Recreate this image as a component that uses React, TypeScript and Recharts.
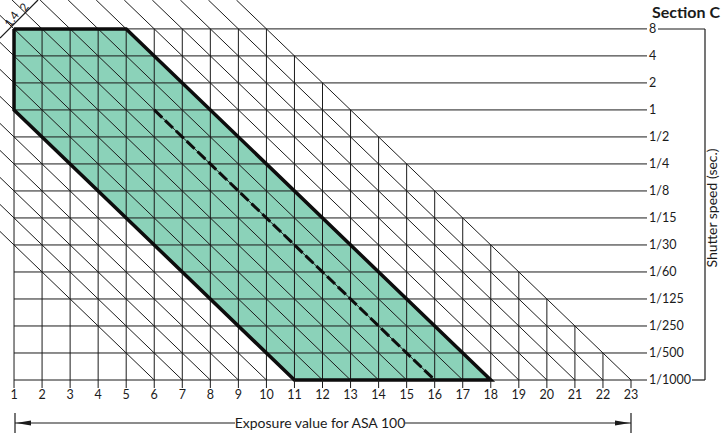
import React from 'react';
import { ComposedChart, Line, Area, XAxis, YAxis } from 'recharts';

// exposure values along the bottom
const evTicks = [1, 2, 3, 4, 5, 6, 7, 8, 9, 10, 11, 12, 13, 14, 15, 16, 17, 18, 19, 20, 21, 22, 23];
// shutter speeds, top row first (row value = 13 - index)
const shutterLabels = ['8', '4', '2', '1', '1/2', '1/4', '1/8', '1/15', '1/30', '1/60', '1/125', '1/250', '1/500', '1/1000'];
// diagonal lines: each one ends on the 1/1000 row at this EV
const diagonalEnds = [6, 7, 8, 9, 10, 11, 12, 13, 14, 15, 16, 17, 18, 19, 20, 21, 22, 23];

// green zone, as a band between a lower and upper edge
const zoneX = [1, 5, 11, 18];
const zoneLow = [10, 6, 0, 0];
const zoneHigh = [13, 13, 7, 0];

// thick outline of the zone
const outlineX = [1, 5, 18, 11, 1, 1];
const outlineY = [13, 13, 0, 0, 10, 13];

// dashed line
const dashX = [6, 16];
const dashY = [10, 0];

const X_MIN = 0.5;
const X_MAX = 23;
const Y_MAX = 14.07;
const TOP_ROW = shutterLabels.length - 1;
const OUTER = diagonalEnds[diagonalEnds.length - 1];

const INK = '#1b1b1b';
const FONT = 'Lato, "Open Sans", sans-serif';

const zoneData = zoneX.map((x, i) => ({ x, band: [zoneLow[i], zoneHigh[i]] }));
const outlineData = outlineX.map((x, i) => ({ x, y: outlineY[i] }));
const dashData = dashX.map((x, i) => ({ x, y: dashY[i] }));

const segments: { x: number; y: number }[][] = [];
// horizontal rows
shutterLabels.forEach((_, i) => {
  const y = TOP_ROW - i;
  segments.push([{ x: 1, y }, { x: X_MAX, y }]);
});
// vertical columns, cut off by the outermost diagonal
evTicks.forEach((x) => {
  const top = Math.min(TOP_ROW, OUTER - x);
  if (top > 0) segments.push([{ x, y: 0 }, { x, y: top }]);
});
// diagonals x + y = k
diagonalEnds.forEach((k) => {
  const start = k - X_MIN <= Y_MAX ? { x: X_MIN, y: k - X_MIN } : { x: k - Y_MAX, y: Y_MAX };
  segments.push([start, { x: k, y: 0 }]);
});

const Decorations = () => (
  <svg width={723} height={433} style={{ position: 'absolute', left: 0, top: 0, pointerEvents: 'none' }}>
    <g stroke={INK} strokeWidth={1.2}>
      <line x1={658} y1={29} x2={705} y2={29} />
      <line x1={705} y1={29} x2={705} y2={380} />
      <line x1={692} y1={380} x2={705} y2={380} />
      <line x1={15} y1={423} x2={235} y2={423} />
      <line x1={405} y1={423} x2={631} y2={423} />
      <line x1={15} y1={413} x2={15} y2={433} />
      <line x1={631} y1={413} x2={631} y2={433} />
      <line x1={0} y1={38} x2={38} y2={0} />
    </g>
    <polygon points="16,423 31,420.5 31,425.5" fill={INK} />
    <polygon points="630,423 615,420.5 615,425.5" fill={INK} />
    <text x={720} y={18} textAnchor="end" fontFamily={FONT} fontWeight="bold" fontSize={16} fill={INK}>
      Section C
    </text>
    <text
      x={717}
      y={208}
      textAnchor="middle"
      transform="rotate(-90 717 208)"
      fontFamily={FONT}
      fontSize={14}
      fill={INK}
    >
      Shutter speed (sec.)
    </text>
    <text x={320} y={428} textAnchor="middle" fontFamily={FONT} fontSize={14} fill={INK}>
      Exposure value for ASA 100
    </text>
    <text x={15} y={21.5} textAnchor="middle" transform="rotate(-55 15 21.5)" fontFamily={FONT} fontSize={11.5} fill={INK}>
      1.4
    </text>
    <text x={27.5} y={9.5} textAnchor="middle" transform="rotate(-55 27.5 9.5)" fontFamily={FONT} fontSize={11.5} fill={INK}>
      2
    </text>
  </svg>
);

export default function App() {
  return (
    <div style={{ position: 'absolute', left: 0, top: 0, width: 723, height: 433, background: '#fff', fontFamily: FONT }}>
      <ComposedChart width={723} height={433} data={zoneData} margin={{ top: 0, right: 0, bottom: 0, left: 0 }}>
        <XAxis
          type="number"
          dataKey="x"
          domain={[X_MIN, X_MAX]}
          ticks={evTicks}
          interval={0}
          height={53}
          tickSize={8}
          axisLine={false}
          tickLine={{ stroke: INK }}
          tick={{ fill: INK, fontSize: 12.5 }}
        />
        <YAxis
          type="number"
          orientation="right"
          domain={[0, Y_MAX]}
          ticks={shutterLabels.map((_, i) => TOP_ROW - i)}
          interval={0}
          width={92}
          tickSize={16}
          axisLine={false}
          tickLine={{ stroke: INK }}
          tick={{ fill: INK, fontSize: 12.5 }}
          tickFormatter={(v: number) => shutterLabels[TOP_ROW - v]}
        />
        <Area
          dataKey="band"
          type="linear"
          fill="#8bd2b9"
          fillOpacity={1}
          stroke="none"
          isAnimationActive={false}
          activeDot={false}
        />
        {segments.map((seg, i) => (
          <Line
            key={i}
            data={seg}
            dataKey="y"
            type="linear"
            stroke={INK}
            strokeWidth={1}
            dot={false}
            activeDot={false}
            isAnimationActive={false}
          />
        ))}
        <Line
          data={outlineData}
          dataKey="y"
          type="linear"
          stroke="#0d0d0d"
          strokeWidth={3.5}
          strokeLinejoin="miter"
          dot={false}
          activeDot={false}
          isAnimationActive={false}
        />
        <Line
          data={dashData}
          dataKey="y"
          type="linear"
          stroke="#0d0d0d"
          strokeWidth={3}
          strokeDasharray="11 4"
          dot={false}
          activeDot={false}
          isAnimationActive={false}
        />
      </ComposedChart>
      <Decorations />
    </div>
  );
}
